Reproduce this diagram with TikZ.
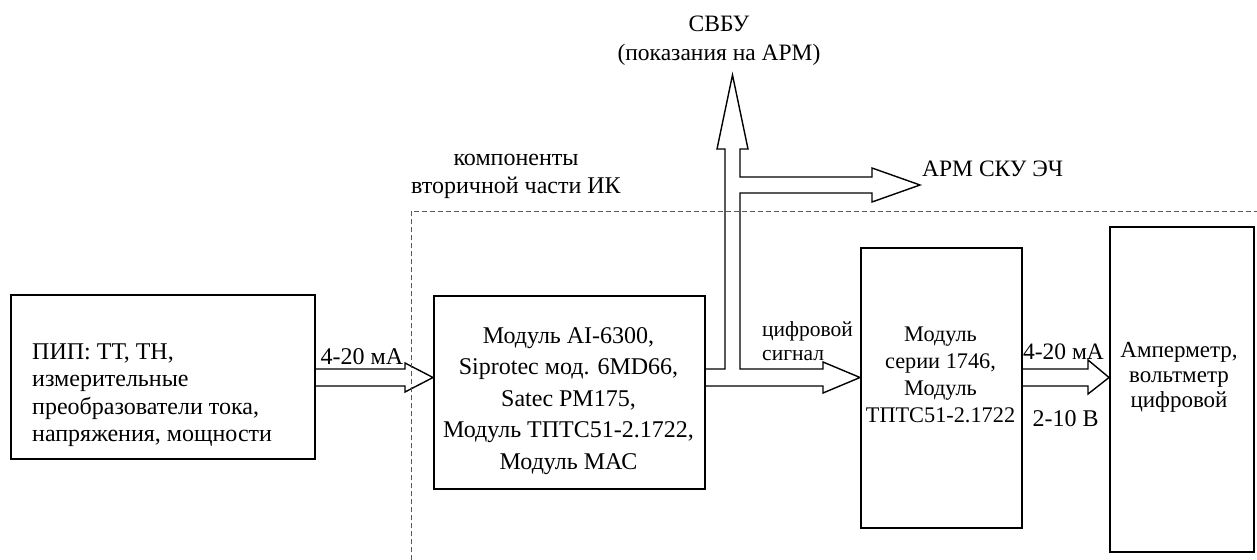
\documentclass[tikz,border=0pt]{standalone}
\usepackage{fontspec}
\setmainfont{Liberation Serif}
\begin{document}
\begin{tikzpicture}[x=1pt,y=-1pt,
  box/.style={draw, line width=1.5pt, inner sep=0pt, anchor=north west},
  txt/.style={inner sep=0pt, font=\fontsize{24}{27.5}\selectfont},
  barrow/.style={draw, line width=1.4pt, line join=miter},
  frame/.style={draw=black!65, line width=0.8pt, dash pattern=on 5pt off 3pt}]
\useasboundingbox (0,0) rectangle (1257,559);
% boxes
\node[box, minimum width=304pt, minimum height=164pt] (b1) at (10,294) {};
\node[box, minimum width=271pt, minimum height=193pt] (b2) at (433,295) {};
\node[box, minimum width=161pt, minimum height=280pt] (b3) at (860,247) {};
\node[box, minimum width=144pt, minimum height=325pt] (b4) at (1109,226) {};
% box texts
\node[txt, align=left, anchor=west] (t1) at (32,395) {ПИП: ТТ, ТН,\\измерительные\\преобразователи тока,\\напряжения, мощности};
\node[txt, align=center, font=\fontsize{24}{31.5}\selectfont] (t2) at (568.5,401) {Модуль AI-6300,\\Siprotec мод. 6MD66,\\Satec PM175,\\Модуль ТПТС51-2.1722,\\Модуль МАС};
\node[txt, align=center, font=\fontsize{22.3}{27}\selectfont] (t3) at (940.5,375) {Модуль\\серии 1746,\\Модуль\\ТПТС51-2.1722};
\node[txt, align=center, font=\fontsize{23}{25}\selectfont] (t4) at (1179,377) {Амперметр,\\вольтметр\\цифровой};
% labels
\node[txt] (l1) at (362,357) {4-20 мА};
\node[txt, font=\fontsize{23.5}{27}\selectfont] (l2) at (1063.5,352) {4-20 мА};
\node[txt] (l3) at (1065.5,419) {2-10 В};
\node[txt, align=left, anchor=west, font=\fontsize{21.5}{24.5}\selectfont] (l4) at (762,341) {цифровой\\сигнал};
\node[txt, align=center, font=\fontsize{24}{28}\selectfont] (l5) at (516,176) {компоненты\\вторичной части ИК};
\node[txt, align=center, font=\fontsize{23.5}{29}\selectfont] (l6) at (719,41) {СВБУ\\(показания на АРМ)};
\node[txt, anchor=west, font=\fontsize{23.5}{27}\selectfont] (l7) at (922,169) {АРМ СКУ ЭЧ};
% arrow b1 -> b2
\draw[barrow] (b1.east |- 0,369) -- (405,369) -- (405,363) -- (b2.west |- 0,377.5) -- (405,392) -- (405,386) -- (b1.east |- 0,386);
% split arrow from b2 to b3, up and right
\draw[barrow] (b2.east |- 0,369) -- (725,369) -- (725,149) -- (717,149) -- (732.5,75) -- (748,149) -- (740,149)
  -- (740,177) -- (872,177) -- (872,168) -- (920,185) -- (872,202) -- (872,193) -- (740,193)
  -- (740,369) -- (823,369) -- (823,362) -- (b3.west |- 0,377.5) -- (823,393) -- (823,386) -- (b2.east |- 0,386);
% arrow b3 -> b4
\draw[barrow] (b3.east |- 0,369) -- (1088,369) -- (1088,360) -- (b4.west |- 0,377.5) -- (1088,394) -- (1088,386) -- (b3.east |- 0,386);
% dashed frame
\draw[frame] (411,560) -- (411,211) -- (1258,211);
\end{tikzpicture}
\end{document}
